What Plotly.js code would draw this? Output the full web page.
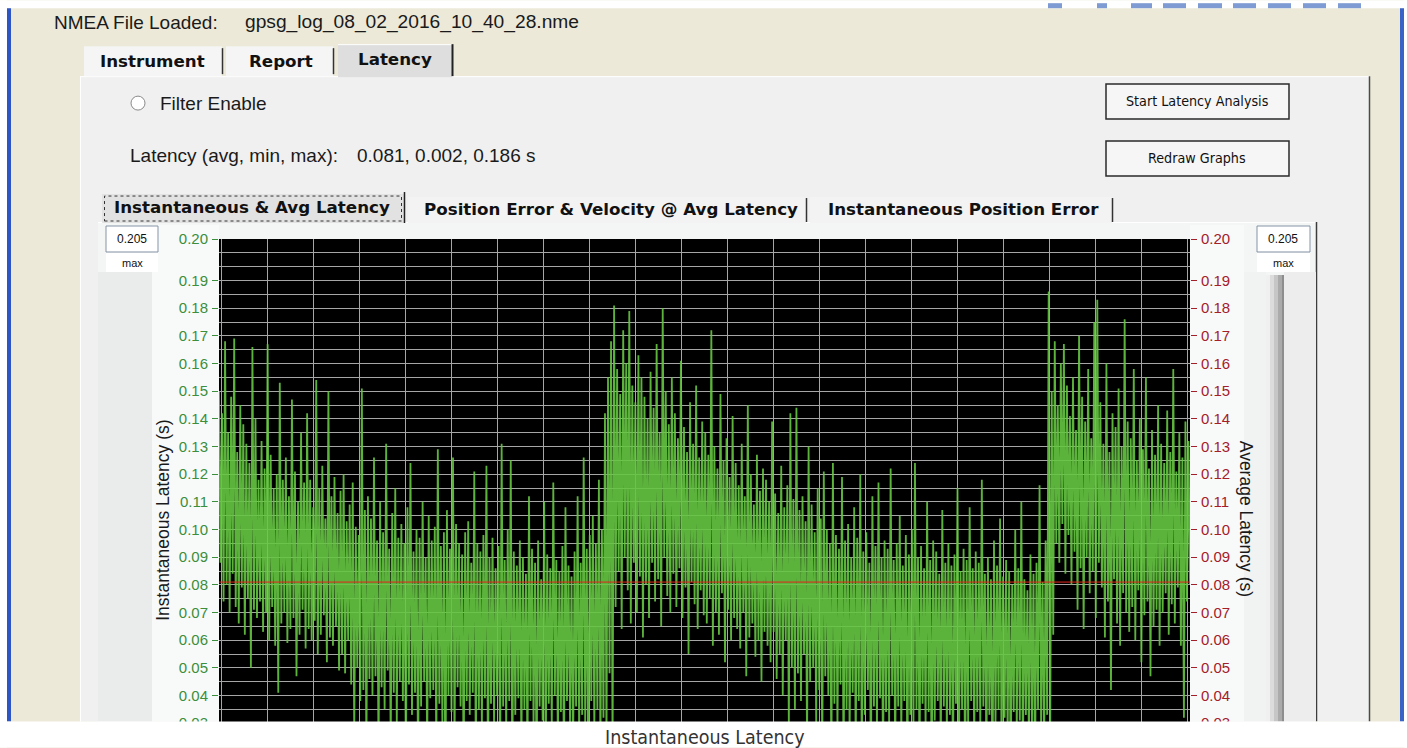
<!DOCTYPE html>
<html><head><meta charset="utf-8">
<script src="https://cdn.plot.ly/plotly-3.0.1.min.js"></script>
<style>html,body{margin:0;padding:0;background:#fff;overflow:hidden}#chart{width:1407px;height:748px}</style>
</head><body><div id="chart"></div>
<script>
// Instantaneous latency samples (milliseconds)
const latencyMs = [
150,88,142,74,168,80,135,70,148,84,169,72,128,66,145,79,138,62,131,75,
124,50,166,71,140,68,118,74,132,63,122,70,167,60,127,72,115,58,120,41,
153,66,118,70,126,59,112,64,147,68,121,47,110,62,135,71,117,57,142,64,
118,60,108,67,154,55,115,62,123,69,104,52,150,61,112,58,119,65,106,49,
114,55,120,48,103,60,109,44,117,25,101,50,98,38,151,42,107,20,112,46,
104,40,126,47,96,18,110,43,99,35,131,49,93,22,106,41,115,30,97,45,
102,38,95,15,108,44,124,33,92,41,100,12,97,36,110,45,90,20,105,39,
96,42,101,18,129,37,94,30,99,2,107,40,93,34,126,22,102,43,95,36,
91,12,99,38,103,33,88,41,121,16,95,35,92,28,98,39,123,10,90,37,
97,30,86,40,94,14,131,36,89,27,100,38,125,11,92,33,87,39,96,20,
90,35,84,17,112,38,93,29,88,9,96,36,82,31,110,15,91,37,86,28,
117,40,89,22,85,34,94,12,108,38,87,30,83,18,92,36,112,26,88,33,
126,30,93,14,98,38,105,27,95,35,118,20,100,32,142,22,155,48,168,18,
181,72,158,85,149,64,172,90,160,78,179,66,152,88,146,70,163,83,155,61,
148,80,140,68,157,88,144,74,167,82,135,65,180,90,150,76,138,70,155,84,
142,72,133,86,161,68,137,79,128,55,146,81,131,73,152,64,126,78,139,69,
135,66,127,75,172,58,130,70,122,62,149,77,125,52,133,71,119,60,141,68,
124,64,116,57,131,70,112,47,145,61,120,66,109,54,127,60,114,45,122,63,
118,58,110,52,139,63,113,46,106,55,123,40,108,60,116,28,142,50,111,35,
144,48,107,38,112,55,103,22,130,45,109,50,99,30,115,42,104,18,121,47,
100,40,95,15,124,37,98,28,93,44,119,12,96,35,102,25,90,41,108,20,
97,38,120,16,92,33,99,42,88,10,112,36,94,27,117,39,90,14,96,34,
93,30,122,40,89,18,95,36,105,25,87,38,98,12,91,33,100,29,124,35,
90,15,94,37,86,28,110,34,89,9,96,31,92,38,84,20,107,36,88,26,
95,33,87,14,91,37,115,24,85,35,93,10,89,30,108,38,86,22,92,34,
88,28,118,36,84,16,90,33,82,8,96,30,87,35,104,19,83,32,89,26,
85,12,80,34,100,27,86,31,110,15,82,33,78,22,91,29,84,10,88,35,
116,30,81,18,96,33,186,25,150,62,168,95,145,88,160,102,167,84,152,98,
141,80,155,92,136,71,170,86,148,64,139,90,158,77,133,85,175,68,183,88,
146,79,131,61,160,74,128,42,142,82,137,66,151,58,130,77,176,70,139,63,
133,72,158,60,125,78,140,52,129,69,155,74,122,47,136,65,127,71,145,58,
131,70,124,77,143,62,128,73,158,66,121,79,135,58,126,32,139,74,132,80
];
const avgLatency = 0.081;
const statsText = "0.081, 0.002, 0.186 s";
const axisMax = 0.205;
const axisMin = 0.025;
const tickVals = [0.205,0.19,0.18,0.17,0.16,0.15,0.14,0.13,0.12,0.11,0.10,0.09,0.08,0.07,0.06,0.05,0.04,0.03];
const tickText = ["0.20","0.19","0.18","0.17","0.16","0.15","0.14","0.13","0.12","0.11","0.10","0.09","0.08","0.07","0.06","0.05","0.04","0.03"];

const N = latencyMs.length;
const sampleIdx = latencyMs.map((_, i) => i);
const latencyS = latencyMs.map(v => v / 1000);

// pixel geometry of plot area
const L = 219, R = 1190, T = 239, B = 737.4, W = 1407, H = 748;
const pxX = x => (x - L) / (R - L);
const pxY = y => (B - y) / (B - T);
const unitsPerPx = (N - 1) / (R - L);

const shapes = [];
function rect(x0, y0, x1, y1, fill, opts) {
  opts = opts || {};
  shapes.push({type: 'rect', xref: 'paper', yref: 'paper', x0: pxX(x0), x1: pxX(x1), y0: pxY(y1), y1: pxY(y0),
    fillcolor: fill, line: opts.line || {width: 0}, layer: opts.layer || 'below'});
}
function vline(x, y0, y1, color, w) {
  shapes.push({type: 'line', xref: 'paper', yref: 'paper', x0: pxX(x), x1: pxX(x), y0: pxY(y0), y1: pxY(y1),
    line: {color: color, width: w || 1}, layer: 'below'});
}
function hline(x0, x1, y, color, w) {
  shapes.push({type: 'line', xref: 'paper', yref: 'paper', x0: pxX(x0), x1: pxX(x1), y0: pxY(y), y1: pxY(y),
    line: {color: color, width: w || 1}, layer: 'below'});
}
const annotations = [];
function label(x, y, text, size, color, family, xanchor, angle) {
  annotations.push({xref: 'paper', yref: 'paper', x: pxX(x), y: pxY(y), text: text, showarrow: false,
    xanchor: xanchor || 'left', yanchor: 'middle', textangle: angle || 0,
    font: {size: size, color: color || '#111', family: family || 'Liberation Sans, Arial, sans-serif'}});
}

// window frame
rect(0, 0, W, 8, '#ffffff');
rect(0, 0, 7, H, '#ffffff');
rect(7, 8, 11, 722, '#2d55c4');
rect(1400, 8, 1404, 722, '#3a63c8');
rect(1404, 0, W, H, '#ffffff');
[[1048,1062],[1097,1107],[1131,1152],[1163,1186],[1198,1222],[1233,1256],[1268,1291],[1303,1326],[1338,1361]]
  .forEach(p => rect(p[0], 3, p[1], 8, '#7f9bd3'));

// outer tab panel
rect(80, 76, 1370, 722, '#f0f0f0');
hline(80, 1370, 76.5, '#ffffff', 1);
vline(80.5, 76, 722, '#ffffff', 1);
vline(1369.5, 76, 722, '#4a4a4a', 1.5);
// tabs
rect(84, 46, 222, 76, '#f5f5f5');
vline(222.5, 48, 74, '#333333', 1.5);
rect(226, 46, 333, 76, '#f5f5f5');
vline(333.5, 48, 74, '#333333', 1.5);
rect(338, 44, 452, 77, '#dedede');
hline(338, 452, 44.5, '#ffffff', 1);
vline(452.5, 44, 76, '#222222', 2);

// radio button
shapes.push({type: 'circle', xref: 'paper', yref: 'paper', x0: pxX(131), x1: pxX(145), y0: pxY(110), y1: pxY(96),
  fillcolor: '#ffffff', line: {color: '#8a8a8a', width: 1}, layer: 'below'});

// buttons
rect(1106, 84, 1289, 119, '#f6f6f6', {line: {color: '#2a2a2a', width: 1.5}});
rect(1106, 141, 1289, 176, '#f6f6f6', {line: {color: '#2a2a2a', width: 1.5}});

// sub tab panel
rect(98, 222, 1317, 722, '#f4f6f6');
hline(98, 1317, 222.5, '#ffffff', 1);
vline(1316.5, 222, 722, '#3c3c3c', 1.5);
rect(102, 194, 404, 223, '#e2e2e2');
shapes.push({type: 'rect', xref: 'paper', yref: 'paper', x0: pxX(104.5), x1: pxX(401.5), y0: pxY(221), y1: pxY(196),
  line: {color: '#333333', width: 1, dash: 'dot'}, layer: 'below'});
vline(404.5, 192, 223, '#222222', 1.5);
rect(408, 197, 806, 223, '#f3f3f3');
vline(806.5, 198, 222, '#333333', 1.5);
rect(810, 197, 1112, 223, '#f3f3f3');
vline(1112.5, 198, 222, '#333333', 1.5);

// side strips
rect(98, 272, 152, 722, '#eaecec');
rect(152, 225, 219, 722, '#f8fafa');
rect(1190, 225, 1244, 722, '#f8fafa');
rect(1244, 272, 1266, 722, '#f1f3f3');
rect(1284, 272, 1316, 722, '#ededed');
rect(1266, 275, 1270, 722, '#f0f0f0');
rect(1270, 275, 1274, 722, '#dcdcdc');
rect(1274, 275, 1278, 722, '#c6c6c6');
rect(1278, 275, 1282, 722, '#ababab');
rect(1282, 275, 1284, 722, '#8e8e8e');

// max boxes
rect(106, 226, 158, 252, '#ffffff', {line: {color: '#8593a6', width: 1}});
rect(106, 253, 158, 272, '#ffffff');
rect(1257, 226, 1310, 252, '#ffffff', {line: {color: '#8593a6', width: 1}});
rect(1257, 253, 1310, 272, '#ffffff');

// plot background
shapes.push({type: 'rect', xref: 'paper', yref: 'paper', x0: 0, x1: 1, y0: 0, y1: 1, fillcolor: '#000000', line: {width: 0}, layer: 'below'});

// caption strip
rect(0, 722, W, H, '#ffffff', {layer: 'above'});

// texts
const UI = 'Liberation Sans, Arial, sans-serif';
const BOLD = 'DejaVu Sans, Verdana, sans-serif';
const NARROW = 'Liberation Sans Narrow, DejaVu Sans Condensed, Arial Narrow, sans-serif';
label(52, 22, 'NMEA File Loaded:', 19, '#1a1a1a', UI);
label(243, 22, 'gpsg_log_08_02_2016_10_40_28.nme', 19.2, '#1a1a1a', UI);
label(152, 61, '<b>Instrument</b>', 16.7, '#111', BOLD, 'center');
label(281, 61, '<b>Report</b>', 16.7, '#111', BOLD, 'center');
label(395, 59, '<b>Latency</b>', 16.7, '#111', BOLD, 'center');
label(158, 103, 'Filter Enable', 19, '#1a1a1a', UI);
label(128, 155, 'Latency (avg, min, max):', 19, '#1a1a1a', UI);
label(355, 155, statsText, 19, '#1a1a1a', UI);
label(1197, 101, 'Start Latency Analysis', 14.2, '#111', NARROW, 'center');
label(1197, 158, 'Redraw Graphs', 14.2, '#111', NARROW, 'center');
label(252, 207, '<b>Instantaneous &amp; Avg Latency</b>', 16.7, '#111', BOLD, 'center');
label(611, 209, '<b>Position Error &amp; Velocity @ Avg Latency</b>', 16.7, '#111', BOLD, 'center');
label(963, 209, '<b>Instantaneous Position Error</b>', 16.7, '#111', BOLD, 'center');
label(132, 239, String(axisMax.toFixed(3)), 12, '#111', UI, 'center');
label(132, 263, 'max', 11, '#111', UI, 'center');
label(1283, 239, String(axisMax.toFixed(3)), 12, '#111', UI, 'center');
label(1283, 263, 'max', 11, '#111', UI, 'center');
label(163, 521, 'Instantaneous Latency (s)', 17.5, '#1a1a1a', UI, 'center', -90);
label(1246, 519, 'Average Latency (s)', 17.5, '#1a1a1a', UI, 'center', 90);
label(705, 738, 'Instantaneous Latency', 19.5, '#333333', NARROW, 'center');

const gridColor = '#a6a6a6';
const traces = [
  {x: sampleIdx, y: latencyS, type: 'scatter', mode: 'lines', opacity: 0.9, line: {color: '#66c742', width: 1.8}, hoverinfo: 'skip'},
  {x: [0, N - 1], y: [avgLatency, avgLatency], yaxis: 'y2', type: 'scatter', mode: 'lines', line: {color: '#e3231c', width: 1}, hoverinfo: 'skip'}
];
const layout = {
  width: W, height: H,
  margin: {l: L, r: W - R, t: T, b: H - B, pad: 0},
  paper_bgcolor: '#ece9d8', plot_bgcolor: 'rgba(0,0,0,0)',
  showlegend: false,
  font: {family: UI},
  xaxis: {range: [0, N - 1], tickmode: 'linear', tick0: 48 * unitsPerPx, dtick: 46 * unitsPerPx,
    showgrid: true, gridcolor: gridColor, gridwidth: 1, showticklabels: false, ticks: '', zeroline: false, showline: false, fixedrange: true},
  yaxis: {range: [axisMin, axisMax], tickmode: 'array', tickvals: tickVals, ticktext: tickText,
    ticks: 'outside', ticklen: 6, tickwidth: 1, tickcolor: '#3b8e3b', ticklabelstandoff: 1,
    tickfont: {family: UI, size: 15, color: '#3b8e3b'},
    showgrid: true, gridcolor: gridColor, gridwidth: 1, zeroline: false, showline: false,
    minor: {tick0: 0, dtick: 0.005, showgrid: true, gridcolor: gridColor, gridwidth: 1, ticks: ''}, fixedrange: true},
  yaxis2: {overlaying: 'y', side: 'right', range: [axisMin, axisMax], tickmode: 'array', tickvals: tickVals, ticktext: tickText,
    ticks: 'outside', ticklen: 6, tickwidth: 1, tickcolor: '#a3202a', ticklabelstandoff: 1,
    tickfont: {family: UI, size: 15, color: '#a3202a'},
    showgrid: false, zeroline: false, showline: false, fixedrange: true},
  shapes: shapes,
  annotations: annotations
};
Plotly.newPlot('chart', traces, layout, {displayModeBar: false, staticPlot: true});
</script>
</body></html>
